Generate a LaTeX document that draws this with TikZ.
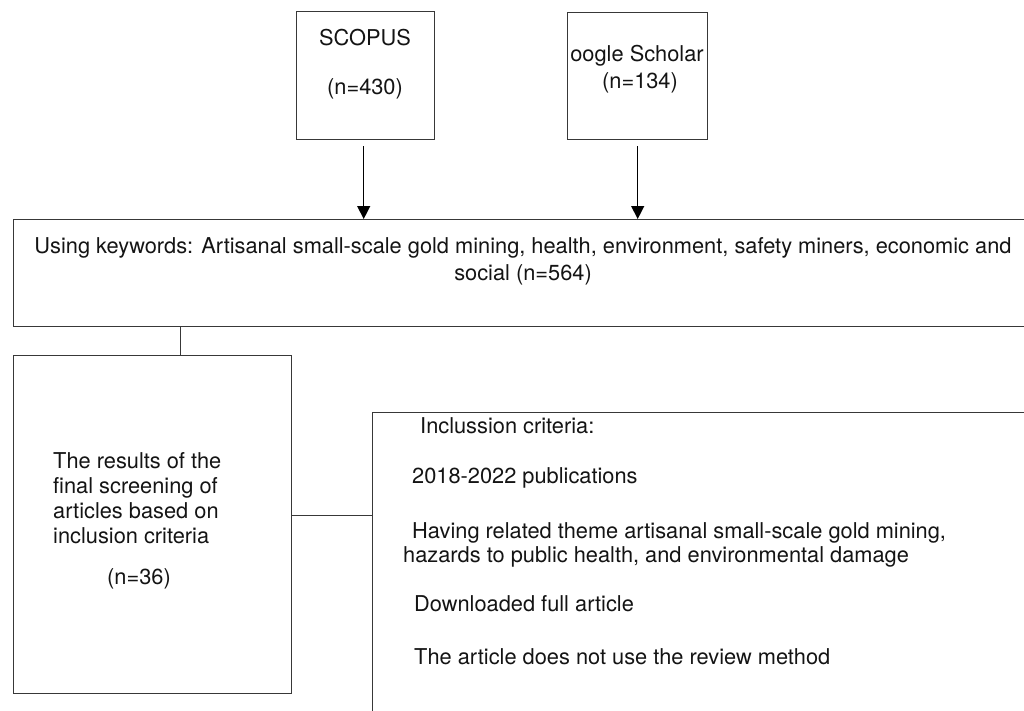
\documentclass[tikz,border=0pt]{standalone}
\usepackage{fontspec}
\setmainfont{TeX Gyre Heros}
\usetikzlibrary{arrows.meta,calc}
\begin{document}
\begin{tikzpicture}[x=1pt,y=-1pt,
  box/.style={draw=black!78, line width=1.4pt, inner sep=0pt, anchor=north west},
  txt/.style={inner sep=0pt, text=black!92, font=\fontsize{21.8}{25}\selectfont},
  arr/.style={draw=black, line width=1.3pt, -{Triangle[width=13pt,length=13pt]}},
  link/.style={draw=black!78, line width=1.4pt}]
\useasboundingbox (0,0) rectangle (1024,710);
% boxes
\node[box, minimum width=138pt, minimum height=128pt] (scopus) at (296,11) {};
\node[box, minimum width=140pt, minimum height=127pt] (google) at (567,12) {};
\node[box, minimum width=1022pt, minimum height=107pt] (kw) at (12.5,219) {};
\node[box, minimum width=278.5pt, minimum height=338pt] (res) at (12.5,355) {};
\node[box, minimum width=700pt, minimum height=400pt] (crit) at (372,412) {};
% texts
\node[txt, anchor=base] (ts1) at (365,45) {SCOPUS};
\node[txt, anchor=base] (ts2) at (365,94) {(n=430)};
\node[txt, anchor=base] (tg1) at (637,61) {oogle Scholar};
\node[txt, anchor=base] (tg2) at (640,88) {(n=134)};
\node[txt, anchor=base] (tk1) at (523,253) {Using keywords: Artisanal small-scale gold mining, health, environment, safety miners, economic and};
\node[txt, anchor=base] (tk2) at (523,280) {social (n=564)};
\node[txt, anchor=base west] (tr1) at (53,468) {The results of the};
\node[txt, anchor=base west] (tr2) at (53,493) {final screening of};
\node[txt, anchor=base west] (tr3) at (53,518) {articles based on};
\node[txt, anchor=base west] (tr4) at (53,543) {inclusion criteria};
\node[txt, anchor=base] (tr5) at (139,584) {(n=36)};
\node[txt, anchor=base west] (tc1) at (420,433) {Inclussion criteria:};
\node[txt, anchor=base west] (tc2) at (412,483) {2018-2022 publications};
\node[txt, anchor=base west] (tc3) at (412,538) {Having related theme artisanal small-scale gold mining,};
\node[txt, anchor=base west] (tc4) at (403,562) {hazards to public health, and environmental damage};
\node[txt, anchor=base west] (tc5) at (414,611) {Downloaded full article};
\node[txt, anchor=base west] (tc6) at (414,664) {The article does not use the review method};
% connectors
\coordinate (a1) at ($(scopus.south)+(-2,6)$);
\draw[arr] (a1) -- (a1 |- kw.north);
\coordinate (a2) at ($(google.south)+(0,6)$);
\draw[arr] (a2) -- (a2 |- kw.north);
\coordinate (c1) at ($(res.north west)!0.6!(res.north east)$);
\draw[link] (c1) -- (c1 |- kw.south);
\coordinate (c2) at ([yshift=9pt]res.east);
\draw[link] (c2) -- (c2 -| crit.west);
\end{tikzpicture}
\end{document}
